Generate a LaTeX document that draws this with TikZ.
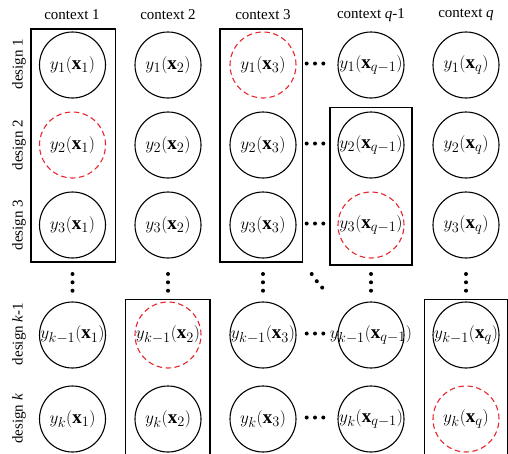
\documentclass[tikz,border=0pt]{standalone}
\usepackage{fontspec}
\setmainfont{Liberation Serif}
\definecolor{hotred}{RGB}{232,38,45}
\begin{document}
\begin{tikzpicture}[x=1pt,y=-1pt,
  cell/.style={circle,draw,line width=1.1pt,minimum size=66pt,inner sep=0pt,font=\fontsize{19}{22}\selectfont},
  hot/.style={draw=hotred,dash pattern=on 5.5pt off 3.5pt},
  hot21/.style={hot}, hot13/.style={hot}, hot34/.style={hot}, hot42/.style={hot}, hot55/.style={hot},
  frame/.style={draw,line width=1.1pt},
  lab/.style={font=\fontsize{15}{18}\selectfont,inner sep=0pt},
  dotm/.style={fill=black}]
\useasboundingbox (0,0) rectangle (508,453);
% column headers
\node[lab] (c1) at (72,15) {context 1};
\node[lab] (c2) at (168,15) {context 2};
\node[lab] (c3) at (263,15) {context 3};
\node[lab] (c4) at (371,15) {context \textit{q}-1};
\node[lab] (c5) at (466,15) {context \textit{q}};
% row labels
\node[lab,rotate=90] (d1) at (19,64) {design 1};
\node[lab,rotate=90] (d2) at (19,145) {design 2};
\node[lab,rotate=90] (d3) at (19,225) {design 3};
\node[lab,rotate=90] (d4) at (19,334) {design \textit{k}-1};
\node[lab,rotate=90] (d5) at (19,419) {design \textit{k}};
% frames
\draw[frame] (31,29) rectangle (115.5,262);
\draw[frame] (220,29) rectangle (302.5,262);
\draw[frame] (330,107.5) rectangle (412,265);
\draw[frame] (125.5,299.5) rectangle (210,460);
\draw[frame] (424.5,299.5) rectangle (507.4,460);
% cells
\foreach \r/\ry/\rs in {1/65/1,2/145/2,3/225/3,4/335/{k-1},5/419/k}{
  \foreach \c/\cx/\cs in {1/72.5/1,2/168/2,3/263/3,4/371/{q-1},5/466/q}{
    \node[cell,hot\r\c/.try] (n\r\c) at (\cx,\ry) {\makebox[0pt]{$y_{\rs}(\mathbf{x}_{\cs})$}};
  }
}
% horizontal dots
\foreach \ry in {65,145,225,335,419}{
  \foreach \dx in {306.7,315,323.3}{\fill[dotm] (\dx,\ry-1.5) circle (2pt);}
}
% vertical dots
\foreach \cx in {72.5,168,263,371,466}{
  \foreach \dy in {274,282.3,290.7}{\fill[dotm] (\cx,\dy) circle (2pt);}
}
% diagonal dots
\fill[dotm] (311.7,274) circle (2pt);
\fill[dotm] (316.8,281.2) circle (2pt);
\fill[dotm] (322.2,287.6) circle (2pt);
\end{tikzpicture}
\end{document}
